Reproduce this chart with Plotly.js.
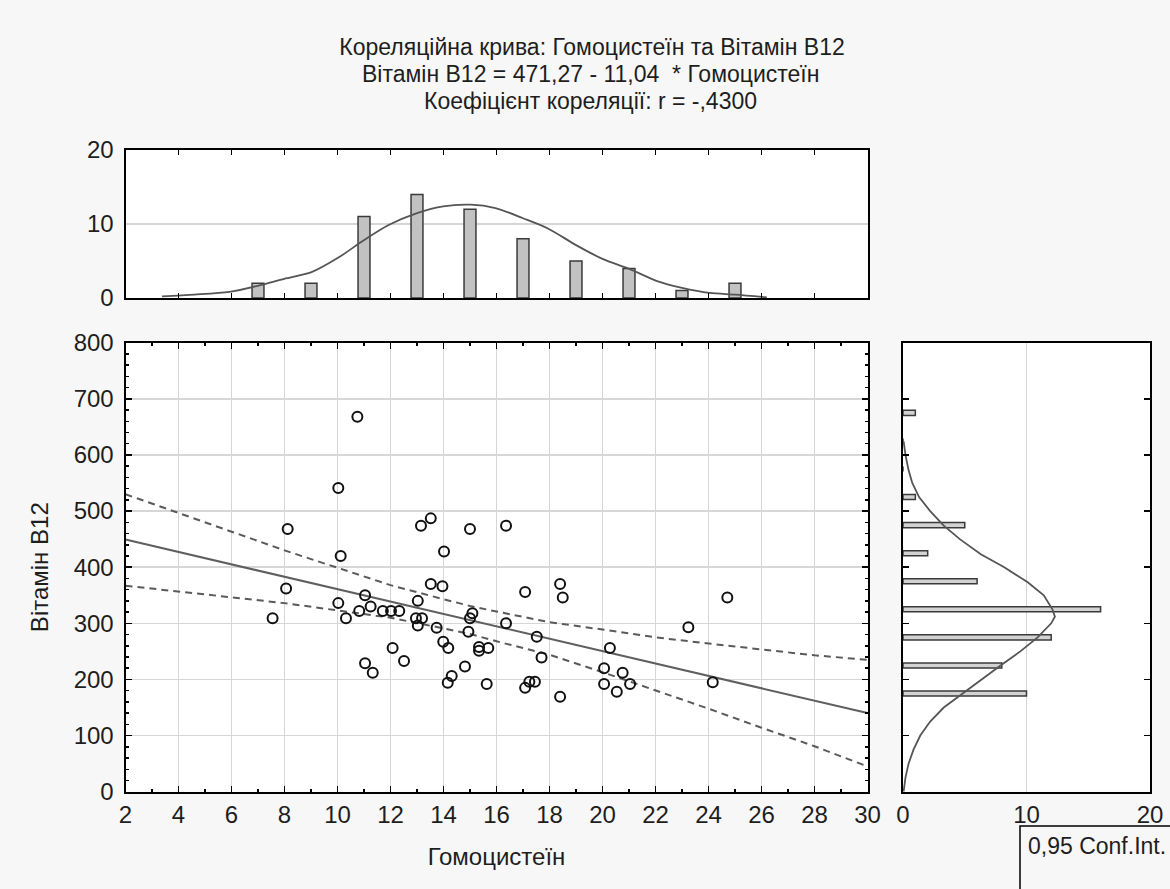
<!DOCTYPE html>
<html>
<head>
<meta charset="utf-8">
<script src="https://cdn.plot.ly/plotly-3.0.1.min.js"></script>
<style>html,body{margin:0;padding:0;background:#f7f7f7;}#chart{width:1170px;height:889px;}</style>
</head>
<body>
<div id="chart"></div>
<script>
// ---- data ----
const hcy = [10.75, 10.03, 8.12, 10.12, 13.15, 13.52, 14.02, 15.0, 16.36,
  8.06, 7.55, 10.03, 10.32, 11.04, 10.82, 11.25, 11.71, 12.02, 12.33,
  13.03, 12.96, 13.19, 13.03, 13.52, 13.96, 13.74, 13.99, 14.18, 15.09,
  15.0, 14.94, 15.34, 15.34, 15.69, 12.08, 12.51, 11.04, 11.33, 14.16,
  14.31, 14.81, 15.63,
  17.08, 18.40, 18.50, 16.36, 17.52, 17.70, 17.08, 17.24, 17.45, 18.40,
  20.28, 20.06, 20.06, 20.54, 20.76, 21.04, 23.24, 24.71, 24.16];
const b12 = [668, 541, 468, 420, 474, 487, 428, 468, 474,
  362, 309, 336, 309, 350, 322, 330, 322, 322, 322,
  340, 309, 309, 296, 370, 366, 292, 267, 256, 318,
  309, 285, 258, 251, 256, 256, 233, 229, 212, 194,
  206, 223, 192,
  356, 370, 346, 300, 276, 239, 185, 196, 196, 169,
  256, 220, 192, 178, 212, 192, 293, 346, 195];

const regX = [2, 30];
const regY = [449.2, 140.1];

const bandX = [2, 4, 6, 8, 10, 12, 14, 15, 16, 18, 20, 22, 24, 26, 28, 30];
const bandUpper = [530, 497, 463, 430, 399, 368, 343, 331, 321, 302, 289, 275, 264, 254, 243, 235];
const bandLower = [367, 357, 347, 336, 323, 310, 291, 281, 268, 244, 213, 181, 148, 114, 81, 45];

const topBinCenters = [7, 9, 11, 13, 15, 17, 19, 21, 23, 25];
const topBinCounts  = [2, 2, 11, 14, 12, 8, 5, 4, 1, 2];
const topCurveX = [3.38, 4.6, 5.92, 7.05, 7.99, 9.02, 10.05, 10.99, 11.93, 13.0, 13.99, 15.02, 15.96, 17.0, 17.94, 19.02, 20.0, 21.03, 22.06, 23.0, 24.04, 25.01, 26.2];
const topCurveY = [0.23, 0.46, 0.83, 1.7, 2.6, 3.5, 5.5, 7.8, 9.86, 11.47, 12.39, 12.61, 12.16, 10.78, 9.4, 7.11, 5.28, 3.9, 2.29, 1.38, 0.69, 0.46, 0.09];

const rightBinCenters = [175, 225, 275, 325, 375, 425, 475, 525, 575, 625, 675];
const rightBinCounts  = [10, 8, 12, 16, 6, 2, 5, 1, 0, 0, 1];
const rightCurveY = [0, 25, 50, 75, 100, 125, 150, 175, 200, 225, 250, 275, 300, 312, 325, 350, 373, 400, 423, 450, 474, 500, 525, 550, 573, 600, 624];
const rightCurveX = [0.05, 0.2, 0.45, 0.85, 1.4, 2.2, 3.3, 4.8, 6.3, 7.9, 9.5, 10.9, 12.0, 12.3, 12.1, 11.4, 10.1, 8.2, 6.3, 4.6, 3.3, 2.2, 1.3, 0.75, 0.45, 0.2, 0.05];

const titleLines = ['Кореляційна крива: Гомоцистеїн та Вітамін B12',
  'Вітамін B12 = 471,27 - 11,04\u00a0 * Гомоцистеїн',
  'Коефіцієнт кореляції: r = -,4300'];
const xTitle = 'Гомоцистеїн';
const yTitle = 'Вітамін B12';
const legendText = '0,95 Conf.Int.';

// ---- layout helpers ----
const W = 1170, H = 889;
const px = v => v / W;
const py = v => (H - v) / H;
const FONT = 'Liberation Sans, Arial, sans-serif';
const TXT = '#1e1e1e';
const TICK_SIZE = 24;
const TITLE_SIZE = 23;

const traces = [
  {type: 'scatter', mode: 'lines', x: bandX, y: bandUpper, xaxis: 'x', yaxis: 'y',
   line: {color: '#5a5a5a', width: 2, dash: '7px,5px'}, hoverinfo: 'skip'},
  {type: 'scatter', mode: 'lines', x: bandX, y: bandLower, xaxis: 'x', yaxis: 'y',
   line: {color: '#5a5a5a', width: 2, dash: '7px,5px'}, hoverinfo: 'skip'},
  {type: 'scatter', mode: 'lines', x: regX, y: regY, xaxis: 'x', yaxis: 'y',
   line: {color: '#5f5f5f', width: 2}},
  {type: 'scatter', mode: 'markers', x: hcy, y: b12, xaxis: 'x', yaxis: 'y',
   marker: {symbol: 'circle-open', size: 10, color: '#111', line: {width: 2, color: '#111'}}},
  {type: 'bar', x: topBinCenters, y: topBinCounts, xaxis: 'x2', yaxis: 'y2', width: 0.45,
   marker: {color: '#c2c2c2', line: {color: '#3a3a3a', width: 1.5}}},
  {type: 'scatter', mode: 'lines', x: topCurveX, y: topCurveY, xaxis: 'x2', yaxis: 'y2',
   line: {color: '#555', width: 1.8, shape: 'spline', smoothing: 0.8}},
  {type: 'bar', orientation: 'h', y: rightBinCenters, x: rightBinCounts, xaxis: 'x3', yaxis: 'y3', width: 9,
   marker: {color: '#d2d2d2', line: {color: '#3a3a3a', width: 1.5}}},
  {type: 'scatter', mode: 'lines', x: rightCurveX, y: rightCurveY, xaxis: 'x3', yaxis: 'y3',
   line: {color: '#555', width: 1.8}}
];

const xDom = [px(125.5), px(867.5)];
const yDom = [py(791.7), py(342.7)];
const baseAxis = {
  showline: true, linecolor: '#000', linewidth: 2, mirror: 'allticks',
  ticks: 'inside', ticklen: 6, tickwidth: 1.5, tickcolor: '#000',
  zeroline: false, gridcolor: '#d6d6d6', gridwidth: 1.5,
  tickfont: {family: FONT, size: TICK_SIZE, color: TXT}
};

const layout = {
  width: W, height: H,
  margin: {l: 0, r: 0, t: 0, b: 0},
  paper_bgcolor: '#f7f7f7', plot_bgcolor: '#ffffff',
  showlegend: false,
  font: {family: FONT, color: TXT},
  title: {text: titleLines[0], x: px(592), xanchor: 'center',
          y: py(47), yanchor: 'middle', yref: 'container',
          font: {family: FONT, size: TITLE_SIZE, color: TXT}},
  xaxis: Object.assign({}, baseAxis, {
    domain: xDom, anchor: 'y', range: [2, 30], tick0: 2, dtick: 2, showgrid: true,
    minor: {dtick: 1, ticks: 'inside', ticklen: 3, tickcolor: '#000', showgrid: false},
    title: {text: xTitle, font: {family: FONT, size: 24, color: TXT}, standoff: 22}
  }),
  yaxis: Object.assign({}, baseAxis, {
    domain: yDom, anchor: 'x', range: [0, 800], dtick: 100, showgrid: true,
    ticklabelstandoff: 5,
    minor: {dtick: 20, ticks: 'inside', ticklen: 3, tickcolor: '#000', showgrid: false},
    title: {text: yTitle, font: {family: FONT, size: 24, color: TXT}, standoff: 18}
  }),
  xaxis2: Object.assign({}, baseAxis, {
    domain: xDom, anchor: 'y2', range: [2, 30], tick0: 2, dtick: 2,
    showgrid: false, showticklabels: false, ticklen: 5
  }),
  yaxis2: Object.assign({}, baseAxis, {
    domain: [py(298), py(150)], anchor: 'x2', range: [0, 20], dtick: 10,
    showgrid: true, ticks: '', ticklabelstandoff: 5
  }),
  xaxis3: Object.assign({}, baseAxis, {
    domain: [px(903), px(1150)], anchor: 'y3', range: [0, 20], dtick: 10,
    showgrid: true, ticks: ''
  }),
  yaxis3: Object.assign({}, baseAxis, {
    domain: yDom, anchor: 'x3', range: [0, 800], dtick: 100,
    showgrid: false, showticklabels: false
  }),
  shapes: [
    {type: 'rect', xref: 'paper', yref: 'paper', x0: px(1020), x1: px(1185), y0: py(900), y1: py(826),
     line: {color: '#000', width: 1.5}, fillcolor: 'rgba(0,0,0,0)'}
  ],
  annotations: [
    {xref: 'paper', yref: 'paper', x: px(590), y: py(74), xanchor: 'center', yanchor: 'middle',
     text: titleLines[1], showarrow: false, font: {family: FONT, size: TITLE_SIZE, color: TXT}},
    {xref: 'paper', yref: 'paper', x: px(590), y: py(101), xanchor: 'center', yanchor: 'middle',
     text: titleLines[2], showarrow: false, font: {family: FONT, size: TITLE_SIZE, color: TXT}},
    {xref: 'paper', yref: 'paper', x: px(1026), y: py(846), xanchor: 'left', yanchor: 'middle',
     text: legendText, showarrow: false, font: {family: FONT, size: 23, color: TXT}}
  ]
};

Plotly.newPlot('chart', traces, layout, {displayModeBar: false, staticPlot: true});
</script>
</body>
</html>
